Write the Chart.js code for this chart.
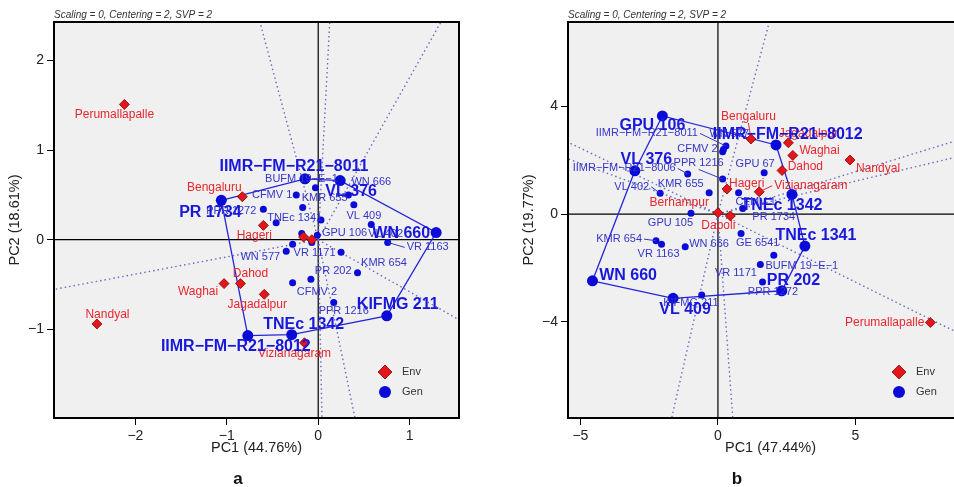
<!DOCTYPE html>
<html>
<head>
<meta charset="utf-8">
<script src="https://cdn.jsdelivr.net/npm/chart.js@4.4.1/dist/chart.umd.min.js"></script>
<style>
  html, body { margin: 0; padding: 0; width: 954px; height: 487px; overflow: hidden; background: #fff; }
  .panel { position: absolute; top: 0; width: 470px; height: 487px; }
  #panelA { left: 0; }
  #panelB { left: 514px; }
  .cap { position: absolute; top: 469px; width: 40px; text-align: center; line-height: 20px;
         font: bold 17px "Liberation Sans", Arial, sans-serif; color: #111; }
</style>
</head>
<body>
<div class="panel" id="panelA"><canvas id="chartA" width="470" height="487"></canvas></div>
<div class="panel" id="panelB"><canvas id="chartB" width="470" height="487"></canvas></div>
<div class="cap" style="left:218px">a</div>
<div class="cap" style="left:717px">b</div>
<script>
const genotypes = ['GPU 106', 'IIMR−FM−R21−8011', 'WN 577', 'VL 376', 'IIMR−FM−R21−8006', 'VL 402',
  'KMR 655', 'PPR 1216', 'CFMV 2', 'GPU 67', 'IIMR−FM−R21−8012', 'CFMV 1', 'TNEc 1342', 'PR 1734',
  'GPU 105', 'KMR 654', 'VR 1163', 'WN 666', 'GE 6541', 'TNEc 1341', 'BUFM 19−E−1', 'VR 1171',
  'PR 202', 'PPR 1272', 'WN 660', 'VL 409', 'KIFMG 211'];
const environments = ['Perumallapalle', 'Bengaluru', 'Hageri', 'Berhampur', 'Dapoli', 'Dahod',
  'Waghai', 'Jagadalpur', 'Nandyal', 'Vizianagaram'];

// panel a scores
const genPC1a = [0.03, -0.145, -0.35, 0.24, -0.18, 0.58, -0.17, 0.17, -0.08, -0.01, -0.77, -0.24, -0.29, -1.06,
  -0.07, 0.25, 0.76, 0.33, -0.28, -0.46, -0.03, -0.28, 0.43, -0.60, 1.29, 0.39, 0.75];
const genPC2a = [0.22, 0.68, -0.13, 0.66, 0.07, 0.17, 0.36, -0.70, -0.44, 0.05, -1.07, 0.50, -1.06, 0.44,
  -0.03, -0.14, -0.03, 0.50, -0.48, 0.19, 0.58, -0.05, -0.37, 0.34, 0.08, 0.39, -0.85];
const envPC1a = [-2.12, -0.83, -0.60, -0.16, -0.07, -0.85, -1.03, -0.59, -2.42, -0.15];
const envPC2a = [1.51, 0.48, 0.16, 0.03, 0.00, -0.49, -0.49, -0.61, -0.94, -1.15];
const xTicksA = [-2, -1, 0, 1];
const yTicksA = [-1, 0, 1, 2];

// panel b scores
const genPC1b = [-2.02, 0.29, 0.20, -3.02, -1.10, -2.10, -0.32, 0.17, 0.17, 1.68, 2.11, 0.75, 2.69, 0.90,
  -0.98, -2.25, -2.05, -1.19, 0.84, 3.16, 2.03, 1.54, 2.32, 1.62, -4.56, -1.63, -0.59];
const genPC2b = [3.65, 2.53, 2.40, 1.61, 1.49, 0.77, 0.79, 1.30, 2.32, 1.54, 2.57, 0.79, 0.73, 0.21,
  0.03, -0.99, -1.12, -1.21, -0.72, -1.19, -1.53, -1.87, -2.85, -2.52, -2.48, -3.13, -3.01];
const envPC1b = [7.72, 1.20, 0.33, 0.00, 0.45, 2.33, 2.72, 2.56, 4.80, 1.50];
const envPC2b = [-4.03, 2.79, 0.93, 0.05, -0.07, 1.62, 2.18, 2.65, 2.01, 0.83];
const xTicksB = [-5, 0, 5];
const yTicksB = [-4, 0, 4];

// label placement: [dx, dy, align, leader line], null = label not shown
const genLabelsA = [
  [1, 13, 'left'], [-11, -12, 'center'], [-6, 6, 'right'], [11, 11, 'center'], null, [-3, 9, 'left'],
  [-1, -9, 'left'], [10, 9, 'center'], [6, 13, 'center'], null, [-12, 11, 'center'], [-4, 0, 'right'],
  [12, -10, 'center'], [-11, 12, 'center'], null, [20, 11, 'left'], [19, 5, 'left', true], [3, -13, 'left'],
  null, [-9, -5, 'left'], [-14, -9, 'center'], [1, 9, 'left'], [-6, -2, 'right'], [-7, 2, 'right'],
  [-6, 1, 'right'], [10, 11, 'center'], [11, -11, 'center']
];
const envLabelsA = [
  [-10, 10, 'center'], [-28, -9, 'center'], [-9, 10, 'center'], null, null, [10, -10, 'center'],
  [-26, 8.5, 'center'], [-7, 10.5, 'center'], [10.5, -9, 'center'], [-10, 11, 'center']
];
const genLabelsB = [
  [-10, 10, 'center'], [-28, -12.6, 'right', true], [-14, -15.6, 'left'], [11.5, -10.7, 'center'],
  [-12, -5.6, 'right', true], [-11, -6.6, 'right', true], [-5.5, -8.7, 'right'], [-24, -15.7, 'center', true],
  [-5, -2.3, 'right'], [-9, -8.6, 'center'], [11.7, -10, 'center'], [17, 9, 'center'], [-10, 11.6, 'center'],
  [31, 9, 'center'], [-20.5, 10, 'center'], [-14, -1.6, 'right', true], [-3, 10, 'center'], [4, -3, 'left'],
  [16.6, 10, 'center'], [11, -11, 'center'], [28, 11, 'center'], [-3.4, 9, 'right'], [11.7, -9.7, 'center'],
  [10.4, 10, 'center'], [6.7, -5.7, 'left'], [12, 11.8, 'center'], [-10.8, 8.3, 'center']
];
const envLabelsB = [
  [-6, 0, 'right'], [-2.5, -22, 'center', true], [2, -5.7, 'left'], [-38.7, -10, 'center'], [-12, 10, 'center'],
  [5.6, -3.4, 'left'], [6.6, -5, 'left'], [20, -9.4, 'center'], [6, 8.3, 'left'], [15, -6, 'left', true]
];

const FONT = '"Liberation Sans", Arial, sans-serif';
const GEN = '#0b0bd8';
const GEN_TXT = '#3535c8';
const ENV = '#e3161c';
const ENV_TXT = '#e8262e';
const RAY = '#6a6ac8';

Chart.defaults.font.family = FONT;

function convexHull(pts) {
  const p = pts.slice().sort((a, b) => a.x - b.x || a.y - b.y);
  const cross = (o, a, b) => (a.x - o.x) * (b.y - o.y) - (a.y - o.y) * (b.x - o.x);
  const lower = [], upper = [];
  for (const q of p) {
    while (lower.length >= 2 && cross(lower[lower.length - 2], lower[lower.length - 1], q) <= 0) lower.pop();
    lower.push(q);
  }
  for (let i = p.length - 1; i >= 0; i--) {
    const q = p[i];
    while (upper.length >= 2 && cross(upper[upper.length - 2], upper[upper.length - 1], q) <= 0) upper.pop();
    upper.push(q);
  }
  lower.pop(); upper.pop();
  return lower.concat(upper);
}

function fmt(v) { return v < 0 ? '−' + Math.abs(v) : String(v); }

function drawLabel(ctx, px, py, name, lay, font, color) {
  if (!lay) return;
  const [dx, dy, align, leader] = lay;
  const lx = px + dx, ly = py + dy;
  if (leader) {
    let ex = lx, ey = ly;
    if (align === 'left') ex -= 2;
    else if (align === 'right') ex += 2;
    else ey += dy < 0 ? 6 : -6;
    ctx.strokeStyle = color;
    ctx.lineWidth = 1;
    ctx.setLineDash([]);
    ctx.beginPath(); ctx.moveTo(px, py); ctx.lineTo(ex, ey); ctx.stroke();
  }
  ctx.font = font;
  ctx.fillStyle = color;
  ctx.textAlign = align;
  ctx.textBaseline = 'middle';
  ctx.fillText(name, lx, ly);
}

function panelPlugin(p, onHull) {
  return {
    id: 'biplot_' + p.canvas,
    beforeDraw(chart) {
      const a = chart.chartArea, ctx = chart.ctx;
      ctx.save();
      ctx.fillStyle = '#f0f0f0';
      ctx.fillRect(a.left, a.top, a.right - a.left, a.bottom - a.top);
      ctx.restore();
    },
    beforeDatasetsDraw(chart) {
      const a = chart.chartArea, ctx = chart.ctx;
      const x0 = chart.scales.x.getPixelForValue(0), y0 = chart.scales.y.getPixelForValue(0);
      ctx.save();
      ctx.strokeStyle = '#000';
      ctx.lineWidth = 1.2;
      ctx.beginPath();
      ctx.moveTo(x0, a.top); ctx.lineTo(x0, a.bottom);
      ctx.moveTo(a.left, y0); ctx.lineTo(a.right, y0);
      ctx.stroke();
      ctx.restore();
    },
    afterDatasetsDraw(chart) {
      const a = chart.chartArea, ctx = chart.ctx;
      const xs = chart.scales.x, ys = chart.scales.y;
      ctx.save();
      // genotype names (non-vertex), environment names, then vertex genotypes on top
      genotypes.forEach((n, i) => {
        if (onHull.has(i)) return;
        drawLabel(ctx, xs.getPixelForValue(p.pc1[i]), ys.getPixelForValue(p.pc2[i]), n, p.genLayout[i],
          '11px ' + FONT, GEN_TXT);
      });
      environments.forEach((n, i) => {
        drawLabel(ctx, xs.getPixelForValue(p.envX[i]), ys.getPixelForValue(p.envY[i]), n, p.envLayout[i],
          '12px ' + FONT, ENV_TXT);
      });
      genotypes.forEach((n, i) => {
        if (!onHull.has(i)) return;
        drawLabel(ctx, xs.getPixelForValue(p.pc1[i]), ys.getPixelForValue(p.pc2[i]), n, p.genLayout[i],
          'bold 16px ' + FONT, '#1818dc');
      });

      // legend
      const lx = a.right - 74;
      ctx.fillStyle = ENV;
      ctx.strokeStyle = '#8a0000';
      ctx.lineWidth = 0.8;
      ctx.beginPath();
      ctx.moveTo(lx, a.bottom - 53); ctx.lineTo(lx + 7, a.bottom - 46);
      ctx.lineTo(lx, a.bottom - 39); ctx.lineTo(lx - 7, a.bottom - 46); ctx.closePath();
      ctx.fill(); ctx.stroke();
      ctx.fillStyle = GEN;
      ctx.beginPath(); ctx.arc(lx, a.bottom - 26, 6, 0, Math.PI * 2); ctx.fill();
      ctx.fillStyle = '#333';
      ctx.font = '11px ' + FONT;
      ctx.textAlign = 'left';
      ctx.textBaseline = 'middle';
      ctx.fillText(chart.data.datasets[0].label, lx + 17, a.bottom - 46);
      ctx.fillText(chart.data.datasets[1].label, lx + 17, a.bottom - 26);

      // frame
      ctx.strokeStyle = '#000';
      ctx.lineWidth = 2;
      ctx.strokeRect(a.left, a.top, a.right - a.left, a.bottom - a.top);

      // settings line above the plot
      ctx.font = 'italic 10px ' + FONT;
      ctx.fillStyle = '#333';
      ctx.textAlign = 'left';
      ctx.fillText('Scaling = 0, Centering = 2, SVP = 2', a.left, 15);
      ctx.restore();
    }
  };
}

function axis(min, max, ticks, title, isX) {
  return {
    type: 'linear',
    min: min,
    max: max,
    afterBuildTicks: s => { s.ticks = ticks.map(v => ({ value: v })); },
    afterFit: s => { if (isX) s.height = 39; else s.width = 54; },
    grid: { drawOnChartArea: false, drawTicks: true, tickLength: 7, color: '#000', lineWidth: 1 },
    border: { display: false },
    ticks: { color: '#222', font: { size: 14 }, padding: 3, maxRotation: 0, autoSkip: false, callback: v => fmt(v) },
    title: { display: true, text: title, color: '#222', font: { size: 14.5 },
             padding: isX ? { top: 0, bottom: 0 } : { top: 6, bottom: 0 } }
  };
}

function buildPanel(p) {
  const gen = genotypes.map((n, i) => ({ x: p.pc1[i], y: p.pc2[i], i: i }));
  const env = environments.map((n, i) => ({ x: p.envX[i], y: p.envY[i] }));
  const hull = convexHull(gen);
  const onHull = new Set(hull.map(h => h.i));

  // sector rays: from the origin, perpendicular to each polygon side
  const rays = hull.map((P, k) => {
    const Q = hull[(k + 1) % hull.length];
    const dx = Q.x - P.x, dy = Q.y - P.y;
    const t = -(P.x * dx + P.y * dy) / (dx * dx + dy * dy);
    const fx = P.x + t * dx, fy = P.y + t * dy;
    const k2 = 60 / Math.hypot(fx, fy);
    return {
      type: 'scatter', label: 'ray', data: [{ x: 0, y: 0 }, { x: fx * k2, y: fy * k2 }],
      showLine: true, pointRadius: 0, borderColor: RAY, borderWidth: 1.4, borderDash: [1.5, 3],
      order: 3
    };
  });

  new Chart(document.getElementById(p.canvas), {
    type: 'scatter',
    data: {
      datasets: [
        {
          label: 'Env', data: env, pointStyle: 'rectRot', pointRadius: 5,
          backgroundColor: ENV, borderColor: '#8a0000', borderWidth: 0.8, order: 0
        },
        {
          label: 'Gen', data: gen, pointStyle: 'circle',
          pointRadius: gen.map(g => onHull.has(g.i) ? 5.5 : 3.5),
          backgroundColor: GEN, borderColor: GEN, borderWidth: 0, order: 1
        },
        {
          label: 'polygon', data: hull.concat([hull[0]]), showLine: true, pointRadius: 0,
          borderColor: '#2424dc', borderWidth: 1.3, order: 2
        },
        ...rays
      ]
    },
    options: {
      responsive: false,
      animation: false,
      events: [],
      layout: { padding: { top: 22, right: 11, bottom: 30, left: 0 } },
      plugins: { legend: { display: false }, tooltip: { enabled: false } },
      scales: {
        x: axis(p.xRange[0], p.xRange[1], p.xTicks, p.xTitle, true),
        y: axis(p.yRange[0], p.yRange[1], p.yTicks, p.yTitle, false)
      }
    },
    plugins: [panelPlugin(p, onHull)]
  });
}

buildPanel({
  canvas: 'chartA', pc1: genPC1a, pc2: genPC2a, envX: envPC1a, envY: envPC2a,
  xRange: [-2.89, 1.54], yRange: [-1.99, 2.43], xTicks: xTicksA, yTicks: yTicksA,
  xTitle: 'PC1 (44.76%)', yTitle: 'PC2 (18.61%)', genLayout: genLabelsA, envLayout: envLabelsA
});
buildPanel({
  canvas: 'chartB', pc1: genPC1b, pc2: genPC2b, envX: envPC1b, envY: envPC2b,
  xRange: [-5.45, 9.27], yRange: [-7.58, 7.14], xTicks: xTicksB, yTicks: yTicksB,
  xTitle: 'PC1 (47.44%)', yTitle: 'PC2 (19.77%)', genLayout: genLabelsB, envLayout: envLabelsB
});
</script>
</body>
</html>
